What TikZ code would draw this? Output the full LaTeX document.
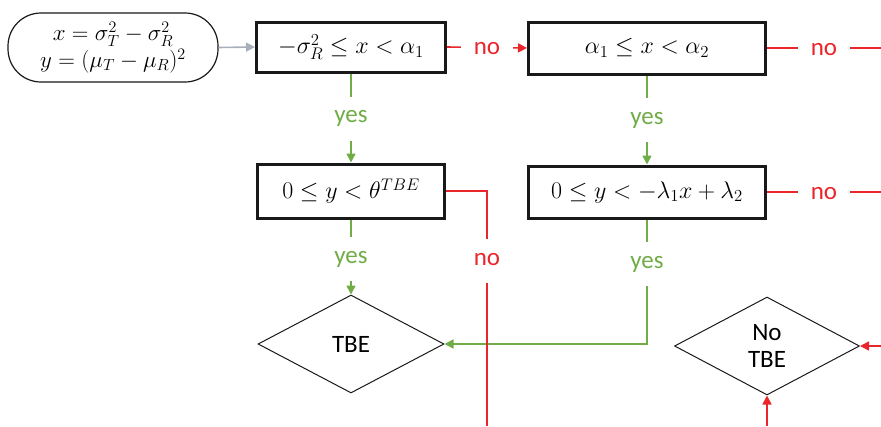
\RequirePackage{fix-cm}
\documentclass[tikz,border=0pt]{standalone}
\usepackage{fontspec}
\newfontfamily\lab{Carlito}
\usetikzlibrary{shapes.geometric,arrows.meta}
\definecolor{cred}{RGB}{232,38,43}
\definecolor{cgreen}{RGB}{112,173,71}
\definecolor{cgray}{RGB}{168,174,186}
\begin{document}
\begin{tikzpicture}[x=1pt,y=-1pt,
  cond/.style={draw=black!90,line width=3pt,rectangle,inner sep=0pt,
    font=\fontsize{24}{28}\selectfont},
  term/.style={draw=black!90,line width=1pt,diamond,inner sep=0pt,
    font=\lab\fontsize{25}{28}\selectfont,align=center},
  lbl/.style={fill=white,inner xsep=13pt,inner ysep=14pt,text height=12pt,text depth=4pt,
    font=\lab\fontsize{25}{28}\selectfont},
  hlbl/.style={lbl,yshift=-3pt},
  tip/.style={-{Triangle[length=9pt,width=9pt]}},
  noline/.style={draw=cred,line width=1.6pt},
  yesline/.style={draw=cgreen,line width=1.6pt},
]
\useasboundingbox (0,0) rectangle (881,426);
\node[draw=black!90,line width=1.2pt,rounded corners=33pt,minimum width=210pt,minimum height=69pt,
  align=center,inner sep=0pt,font=\fontsize{23}{27}\selectfont] (start) at (113,47.5)
  {$x=\sigma_T^2-\sigma_R^2$\\$y=(\mu_T-\mu_R)^2$};
\node[cond,minimum width=189pt,minimum height=50pt] (b1) at (351,47) {$-\sigma_R^2\le x<\alpha_1$};
\node[cond,minimum width=237pt,minimum height=52pt] (b2) at (647,48) {$\alpha_1\le x<\alpha_2$};
\node[cond,minimum width=187pt,minimum height=54pt] (b3) at (351,191) {$0\le y<\theta^{TBE}$};
\node[cond,minimum width=237pt,minimum height=52pt] (b4) at (647,192) {$0\le y<-\lambda_1x+\lambda_2$};
\node[term,minimum width=186pt,minimum height=98pt] (d1) at (351,344) {TBE};
\node[term,minimum width=185pt,minimum height=98pt] (d2) at (767,346) {No\\[-1pt]TBE};
\coordinate (e2) at (881,48);
\coordinate (e4) at (881,192);
\coordinate (e3) at (487,426);
\coordinate (r2) at (881,346);
\coordinate (s2) at (767,426);
% gray
\draw[draw=cgray,line width=1.6pt,tip] (start.east) -- (b1.west);
% green
\draw[yesline,tip] (b1.south) -- node[lbl,text=cgreen,pos=0.51]{yes} (b3.north);
\draw[yesline,tip] (b2.south) -- node[lbl,text=cgreen,pos=0.5]{yes} (b4.north);
\draw[yesline,tip] (b3.south) -- node[lbl,text=cgreen,pos=0.53]{yes} (d1.north);
\draw[yesline,tip] (b4.south) |- node[lbl,text=cgreen,pos=0.18]{yes} (d1.east);
% red
\draw[noline,tip] (b1.east) -- node[hlbl,text=cred]{no} (b2.west);
\draw[noline] (b2.east) -- node[hlbl,text=cred]{no} (e2);
\draw[noline] (b4.east) -- node[hlbl,text=cred]{no} (e4);
\draw[noline] (b3.east) -| node[lbl,text=cred,pos=0.649]{no} (e3);
\draw[noline,tip] (r2) -- (d2.east);
\draw[noline,tip] (s2) -- (d2.south);
\end{tikzpicture}
\end{document}
